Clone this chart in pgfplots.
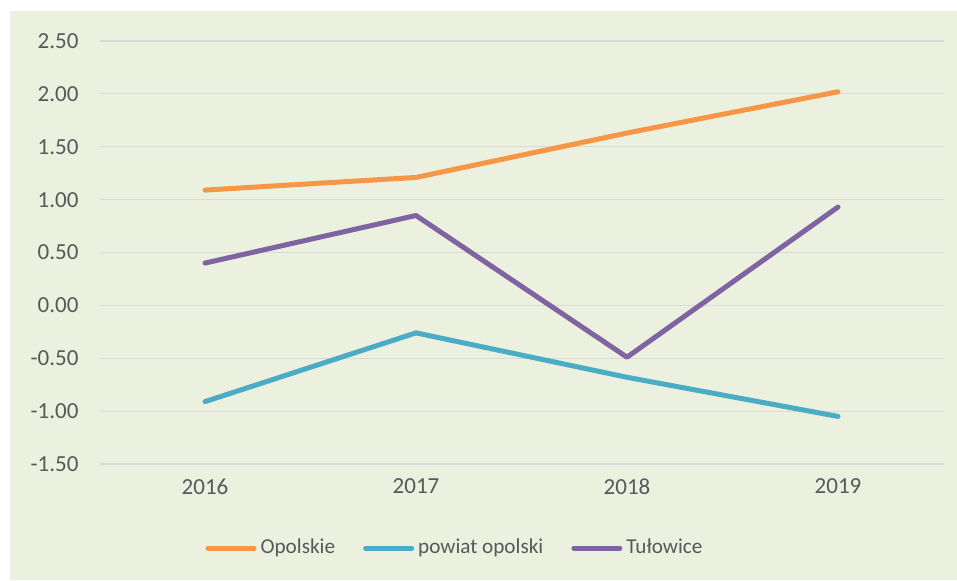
\documentclass[border=0pt]{standalone}
\usepackage{pgfplots}
\pgfplotsset{compat=1.18}
\usepackage{fontspec}
\setmainfont{Carlito}
\definecolor{bgc}{HTML}{EBF0DF}
\definecolor{gridc}{HTML}{D9D9D9}
\definecolor{txt}{HTML}{595959}
\definecolor{c1}{HTML}{F79646}
\definecolor{c2}{HTML}{4BACC6}
\definecolor{c3}{HTML}{8064A2}
\begin{document}
\begin{tikzpicture}[x=0.5pt,y=0.5pt]
\fill[white] (0,0) rectangle (957,580);
\fill[bgc] (10,0) rectangle (957,569);
\begin{axis}[
  at={(49.75pt,58pt)}, anchor=south west,
  scale only axis, width=422pt, height=211.5pt,
  xmin=-0.5, xmax=3.5, ymin=-1.5, ymax=2.5,
  xtick={0,1,2,3}, xticklabels={2016,2017,2018,2019},
  ytick={-1.5,-1,-0.5,0,0.5,1,1.5,2,2.5},
  yticklabels={-1.50,-1.00,-0.50,0.00,0.50,1.00,1.50,2.00,2.50},
  ymajorgrids, grid style={gridc, line width=0.6pt},
  axis line style={draw=none}, major tick length=0pt,
  tick label style={font=\fontsize{11.5}{13}\selectfont, text=txt},
  yticklabel style={xshift=-7pt},
  xticklabel style={yshift=-4pt},
  legend style={at={(0.4212,-0.1986)}, anchor=center,
    draw=none, fill=none, legend columns=3,
    font=\fontsize{10.6}{12}\selectfont, text=txt,
    /tikz/every odd column/.append style={column sep=1pt},
    /tikz/every even column/.append style={column sep=13pt},
    nodes={inner xsep=1pt},
    legend cell align=left},
  legend image code/.code={\draw[#1, line width=2.5pt, line cap=round] (0pt,0pt) -- (23pt,0pt);},
  every axis plot/.append style={line width=2.5pt, line cap=round, line join=round},
  clip=false,
]
\addplot[c1] coordinates {(0,1.09) (1,1.21) (2,1.63) (3,2.02)};
\addlegendentry{Opolskie}
\addplot[c2] coordinates {(0,-0.91) (1,-0.26) (2,-0.68) (3,-1.05)};
\addlegendentry{powiat opolski}
\addplot[c3] coordinates {(0,0.40) (1,0.85) (2,-0.49) (3,0.93)};
\addlegendentry{Tułowice}
\end{axis}
\end{tikzpicture}
\end{document}
